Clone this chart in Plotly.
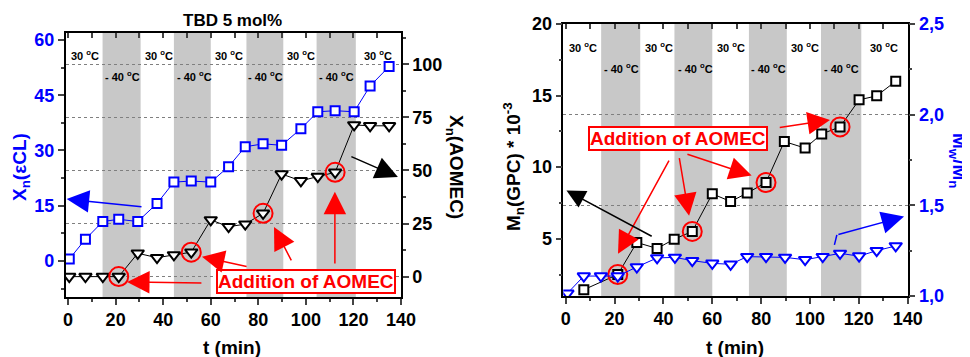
import plotly.graph_objects as go

# ---------------- data ----------------
t_left = [0.5, 7.3, 14.6, 21.3, 29.3, 37.4, 44.5, 51.8, 60, 67.5, 74.5, 82, 89.8, 97.9, 105, 112.3, 120.3, 127, 135]
xn_cl = [0.5, 5.9, 10.7, 11.3, 10.7, 15.6, 21.4, 21.7, 21.4, 25.6, 31.0, 31.8, 31.4, 35.9, 40.5, 40.8, 40.5, 47.5, 52.8]
xn_aomec = [0, 0, 0, 0, 11.0, 8.9, 10.2, 11.5, 26.7, 23.5, 24.7, 29.8, 48.3, 45.1, 47.1, 49.1, 71.4, 71.0, 71.0]
add_idx_left = [3, 7, 11, 15]

t_mn = [7.4, 21.3, 29.1, 37.4, 44.4, 51.8, 60, 67.5, 74.3, 82, 89.5, 98, 104.8, 112.3, 120.1, 127.3, 135.1]
mn = [1.44, 2.5, 4.74, 4.32, 4.97, 5.51, 8.14, 7.6, 8.19, 8.93, 11.79, 11.33, 12.32, 12.81, 14.70, 14.98, 16.0]
add_idx_right = [1, 5, 9, 13]

t_pdi = [0.7, 7.4, 14.4, 21.3, 29.1, 37.4, 44.7, 51.8, 60, 67.5, 74.3, 82, 89.8, 98, 105.2, 112.3, 120.1, 127.3, 135.1]
pdi = [1.015, 1.11, 1.11, 1.11, 1.16, 1.21, 1.213, 1.195, 1.18, 1.175, 1.217, 1.217, 1.213, 1.2, 1.217, 1.235, 1.22, 1.25, 1.276]

band_start = [14.5, 44.5, 75, 104.5]
band_end = [30.5, 60, 90.5, 121]
warm_x = [7.2, 38.2, 67.8, 98, 130.4]
cold_x = [22.7, 53, 83, 113]
warm_label = "30 <sup>o</sup>C"
cold_label = "- 40 <sup>o</sup>C"

x_ticks = [0, 20, 40, 60, 80, 100, 120, 140]
pdi_ticks = [1.0, 1.5, 2.0, 2.5]
pdi_ticktext = ["1,0", "1,5", "2,0", "2,5"]

BLUE = "#0000ff"
RED = "#ff0000"
BLACK = "#000000"
GREY = "#c8c8c8"
FONT = "Liberation Sans, Arial, sans-serif"

# page body has an 8px margin: figure is drawn offset by (8, 8) in the window
OFF = 8
W, H = 970 - OFF, 357 - OFF


def px(x):
    return (x - OFF) / W


def py(y):
    return 1 - (y - OFF) / H


fig = go.Figure()

# ---------------- left panel traces ----------------
fig.add_trace(go.Scatter(x=t_left, y=xn_cl, mode="lines+markers", xaxis="x", yaxis="y",
                         line=dict(color=BLUE, width=1),
                         marker=dict(symbol="square", size=9, color="white", line=dict(color=BLUE, width=2)),
                         showlegend=False))
fig.add_trace(go.Scatter(x=t_left, y=xn_aomec, mode="lines+markers", xaxis="x", yaxis="y2",
                         line=dict(color=BLACK, width=1),
                         marker=dict(symbol="triangle-down", size=11, color="white", line=dict(color=BLACK, width=2)),
                         showlegend=False))
fig.add_trace(go.Scatter(x=[t_left[i] for i in add_idx_left], y=[xn_aomec[i] for i in add_idx_left],
                         mode="markers", xaxis="x", yaxis="y2",
                         marker=dict(symbol="circle-open", size=19, color=RED, line=dict(color=RED, width=2)),
                         showlegend=False))
fig.add_trace(go.Scatter(x=[None], y=[None], xaxis="x3", yaxis="y", showlegend=False, hoverinfo="skip"))

# ---------------- right panel traces ----------------
fig.add_trace(go.Scatter(x=t_pdi, y=pdi, mode="lines+markers", xaxis="x2", yaxis="y4",
                         line=dict(color=BLUE, width=1),
                         marker=dict(symbol="triangle-down", size=11, color="white", line=dict(color=BLUE, width=2)),
                         showlegend=False))
fig.add_trace(go.Scatter(x=t_mn, y=mn, mode="lines+markers", xaxis="x2", yaxis="y3",
                         line=dict(color=BLACK, width=1),
                         marker=dict(symbol="square", size=9, color="white", line=dict(color=BLACK, width=2)),
                         showlegend=False))
fig.add_trace(go.Scatter(x=[t_mn[i] for i in add_idx_right], y=[mn[i] for i in add_idx_right],
                         mode="markers", xaxis="x2", yaxis="y3",
                         marker=dict(symbol="circle-open", size=19, color=RED, line=dict(color=RED, width=2)),
                         showlegend=False))
fig.add_trace(go.Scatter(x=[None], y=[None], xaxis="x4", yaxis="y3", showlegend=False, hoverinfo="skip"))

# ---------------- axes ----------------
tickfont = dict(family=FONT, size=18, color=BLACK, weight="bold")
tickfont_blue = dict(family=FONT, size=18, color=BLUE, weight="bold")
common_x = dict(range=[-1, 140], tickvals=x_ticks, ticks="outside", ticklen=6, tickwidth=1.5,
                minor=dict(dtick=10, tick0=0, ticks="outside", ticklen=3, tickwidth=1.5),
                showline=True, linewidth=1.5, linecolor=BLACK, showgrid=False, zeroline=False,
                tickfont=tickfont, automargin=False)
top_x = dict(range=[-1, 140], side="top", dtick=10, tick0=0, ticks="inside", ticklen=5, tickwidth=1.5,
             showticklabels=False, showline=True, linewidth=1.5, linecolor=BLACK,
             showgrid=False, zeroline=False, automargin=False)

L_dom_x = [px(65.7), px(401)]
L_dom_y = [py(297), py(33)]
R_dom_x = [px(563.3), px(907.7)]
R_dom_y = [py(296), py(24)]

fig.update_layout(
    template="none",
    xaxis=dict(domain=L_dom_x, anchor="y", **common_x),
    xaxis3=dict(overlaying="x", anchor="y", **top_x),
    yaxis=dict(domain=L_dom_y, anchor="x", range=[-9.8, 61.9], tick0=0, dtick=15,
               ticks="outside", ticklen=6, tickwidth=1.5,
               minor=dict(dtick=7.5, tick0=0, ticks="outside", ticklen=3, tickwidth=1.5),
               showline=True, linewidth=1.5, linecolor=BLACK, showgrid=False, zeroline=False,
               tickfont=tickfont_blue, automargin=False),
    yaxis2=dict(overlaying="y", side="right", anchor="x", range=[-9.6, 114.7], tick0=0, dtick=25,
                ticks="outside", ticklen=6, tickwidth=1.5,
                minor=dict(dtick=12.5, tick0=0, ticks="outside", ticklen=3, tickwidth=1.5),
                showline=True, linewidth=1.5, linecolor=BLACK,
                showgrid=True, gridcolor="#7f7f7f", griddash="dot", gridwidth=1, zeroline=False,
                tickfont=tickfont, automargin=False),
    xaxis2=dict(domain=R_dom_x, anchor="y3", **common_x),
    xaxis4=dict(overlaying="x2", anchor="y3", **top_x),
    yaxis3=dict(domain=R_dom_y, anchor="x2", range=[1, 20], tickvals=[5, 10, 15, 20],
                ticks="outside", ticklen=6, tickwidth=1.5,
                minor=dict(dtick=2.5, tick0=0, ticks="outside", ticklen=3, tickwidth=1.5),
                showline=True, linewidth=1.5, linecolor=BLACK, showgrid=False, zeroline=False,
                tickfont=tickfont, automargin=False),
    yaxis4=dict(overlaying="y3", side="right", anchor="x2", range=[1, 2.5],
                tickvals=pdi_ticks, ticktext=pdi_ticktext,
                ticks="outside", ticklen=6, tickwidth=1.5,
                minor=dict(dtick=0.25, tick0=1, ticks="outside", ticklen=3, tickwidth=1.5),
                showline=True, linewidth=1.5, linecolor=BLACK,
                showgrid=True, gridcolor="#7f7f7f", griddash="dot", gridwidth=1, zeroline=False,
                tickfont=tickfont_blue, automargin=False),
    width=W, height=H,
    margin=dict(l=0, r=0, t=0, b=0),
    paper_bgcolor="white", plot_bgcolor="white",
    font=dict(family=FONT, color=BLACK),
    showlegend=False,
)

# ---------------- shaded bands ----------------
shapes = []
for xr, yr in (("x", "y domain"), ("x2", "y3 domain")):
    for s, e in zip(band_start, band_end):
        shapes.append(dict(type="rect", xref=xr, yref=yr, x0=s, x1=e, y0=0, y1=1,
                           fillcolor=GREY, line=dict(width=0), layer="below"))
# short blue leader segment (right panel)
shapes.append(dict(type="line", xref="x2", yref="y4", x0=110, y0=1.282, x1=111, y1=1.337,
                   line=dict(color=BLUE, width=1.5)))
fig.update_layout(shapes=shapes)

# ---------------- annotations ----------------
ann = []
C = dict(xanchor="center", yanchor="middle")
small = dict(family=FONT, size=11, color=BLACK, weight="bold")
for x in warm_x:
    ann.append(dict(x=x, y=55.9, xref="x", yref="y", text=warm_label, showarrow=False, font=small, **C))
    ann.append(dict(x=x, y=18.42, xref="x2", yref="y3", text=warm_label, showarrow=False, font=small, **C))
for x in cold_x:
    ann.append(dict(x=x, y=50.2, xref="x", yref="y", text=cold_label, showarrow=False, font=small, **C))
    ann.append(dict(x=x, y=16.95, xref="x2", yref="y3", text=cold_label, showarrow=False, font=small, **C))

boxfont = dict(family=FONT, size=19, color=RED, weight="bold")
ann.append(dict(x=100, y=-2.5, xref="x", yref="y2", text="Addition of AOMEC", showarrow=False,
                font=boxfont, bgcolor="white", bordercolor=RED, borderwidth=2, borderpad=0, **C))
ann.append(dict(x=45.9, y=11.97, xref="x2", yref="y3", text="Addition of AOMEC", showarrow=False,
                font=boxfont, bgcolor="white", bordercolor=RED, borderwidth=2, borderpad=0, **C))


def arrow(xref, yref, tail, head, color, width=1.5, size=3):
    return dict(xref=xref, yref=yref, axref=xref, ayref=yref,
                x=head[0], y=head[1], ax=tail[0], ay=tail[1], text="", showarrow=True,
                arrowhead=2, arrowsize=size, arrowwidth=width, arrowcolor=color, standoff=0)


# left panel arrows
ann.append(arrow("x", "y", (31.5, 14.7), (-0.6, 16.8), BLUE))
ann.append(arrow("x", "y2", (118.5, 56.8), (138.7, 46.9), BLACK))
ann.append(arrow("x", "y2", (56.7, -3.0), (24.8, -2.5), RED))
ann.append(arrow("x", "y2", (75.7, 4.6), (56.3, 9.3), RED))
ann.append(arrow("x", "y2", (94.2, 6.9), (86.6, 23.4), RED))
ann.append(arrow("x", "y2", (112.2, 5.5), (112.2, 39.9), RED))
# right panel arrows
ann.append(arrow("x2", "y3", (42.6, 10.56), (21.4, 3.95), RED))
ann.append(arrow("x2", "y3", (46.4, 10.74), (50.5, 6.6), RED))
ann.append(arrow("x2", "y3", (49.2, 10.93), (76.1, 9.41), RED))
ann.append(arrow("x2", "y3", (87, 12.76), (108.2, 13.3), RED))
ann.append(arrow("x2", "y3", (35.8, 5.12), (0.3, 8.37), BLACK, size=2.5))
ann.append(arrow("x2", "y4", (111, 1.337), (138.5, 1.438), BLUE))

# titles
titlefont = dict(family=FONT, size=19, color=BLACK, weight="bold")
P = dict(xref="paper", yref="paper", showarrow=False, **C)
ann.append(dict(x=px(232), y=py(20), text="TBD 5 mol%",
                font=dict(family=FONT, size=17, color=BLACK, weight="bold"), **P))
ann.append(dict(x=px(232), y=py(347), text="t (min)", font=titlefont, **P))
ann.append(dict(x=px(735), y=py(347), text="t (min)", font=titlefont, **P))
ann.append(dict(x=px(21), y=py(167), text="X<sub>n</sub>(εCL)", textangle=-90,
                font=dict(family=FONT, size=19, color=BLUE, weight="bold"), **P))
ann.append(dict(x=px(455), y=py(167), text="X<sub>n</sub>(AOMEC)", textangle=90,
                font=titlefont, **P))
ann.append(dict(x=px(513), y=py(167), text="M<sub>n</sub>(GPC) * 10<sup>-3</sup>",
                textangle=-90, font=titlefont, **P))
ann.append(dict(x=px(958), y=py(160), text="M<sub>w</sub>/M<sub>n</sub>", textangle=90,
                font=dict(family=FONT, size=19, color=BLUE, weight="bold"), **P))

fig.update_layout(annotations=ann)

fig.write_html("out.html")
